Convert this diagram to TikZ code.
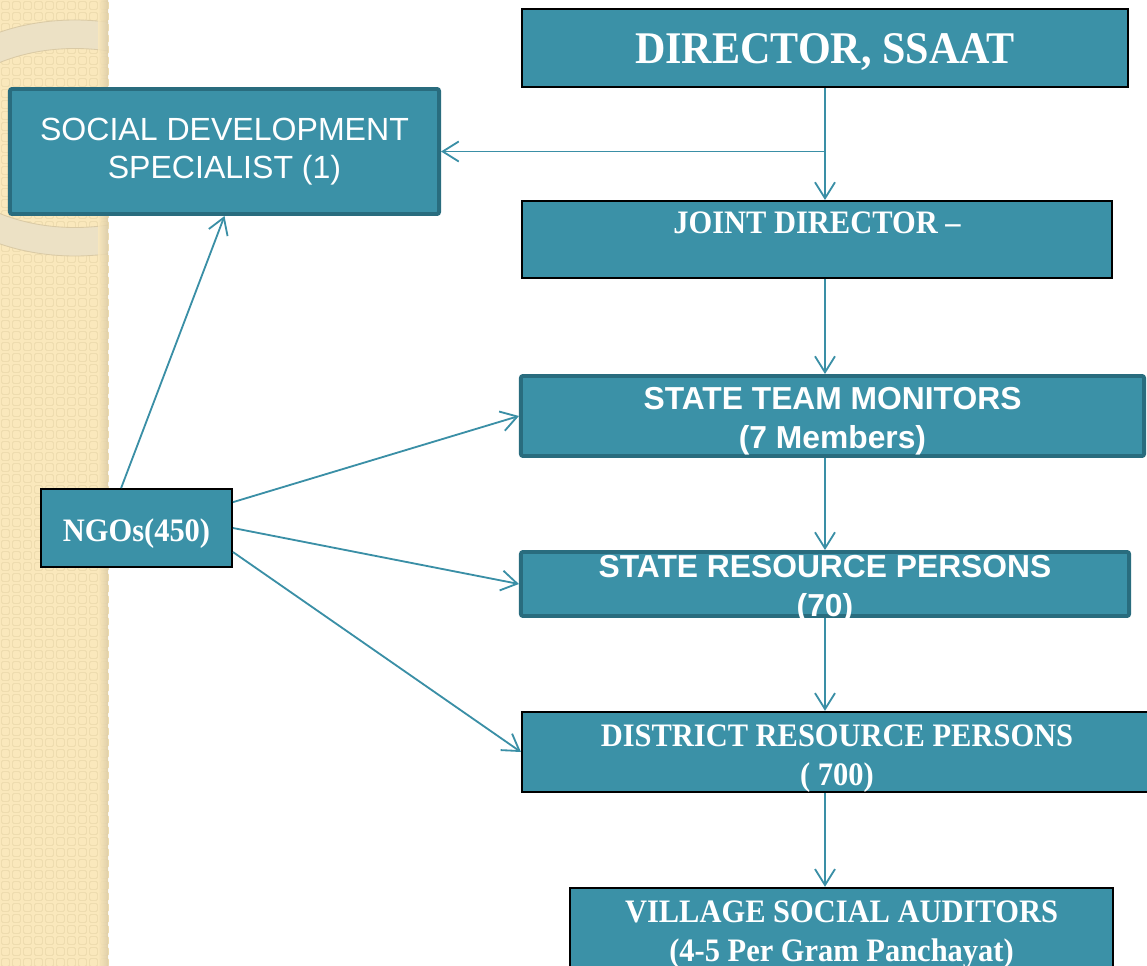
\documentclass[tikz,border=0pt]{standalone}
\usepackage{fontspec}
\setmainfont{Liberation Serif}[FakeStretch=0.93]
\setsansfont{Liberation Sans}
\usepackage{tikz}
\usetikzlibrary{arrows.meta, calc}
\definecolor{boxteal}{RGB}{59,145,167}
\definecolor{rimteal}{RGB}{41,108,126}
\definecolor{lineteal}{RGB}{58,143,166}
\definecolor{parchment}{RGB}{250,232,188}
\definecolor{parchdark}{RGB}{238,220,175}
\definecolor{parchedge}{RGB}{218,202,165}
\definecolor{ringtone}{RGB}{236,225,197}
% pushes the first line of a box down a little
\newcommand{\capstrut}[1][1.05em]{\rule{0pt}{#1}}

\begin{document}
\begin{tikzpicture}[x=0.025cm, y=-0.025cm,
  box/.style={draw=black, line width=1.4pt, fill=boxteal, text=white, inner sep=0pt, align=center,
    font=\fontsize{23.3}{27.7}\selectfont\bfseries},
  rimbox/.style={box, draw=rimteal, line width=2.8pt, rounded corners=1.5pt, font=\sffamily\fontsize{22.6}{27.7}\selectfont\bfseries},
  tile/.style={draw=parchdark, line width=0.7pt, rounded corners=1pt},
  arr/.style={-{Straight Barb[length=4mm, width=5mm]}, lineteal, line width=1.3pt},
]
  \useasboundingbox (0,0) rectangle (1147,966);
  \clip (0,0) rectangle (1147,966);

  % Side strip
  \fill[parchment] (0,0) rectangle (108,966);
  \foreach \i in {0,...,9}
    \foreach \j in {0,...,87}
      \draw[tile] ({\i*11+1.5},{\j*11+1.5}) rectangle +(8,8);
  \begin{scope}
    \clip (0,0) rectangle (108,966);
    \fill[ringtone, even odd rule] (75,138) ellipse[x radius=170, y radius=118] (75,138) ellipse[x radius=140, y radius=89.5];
    \draw[parchedge, line width=0.6pt] (75,138) ellipse[x radius=170, y radius=118] (75,138) ellipse[x radius=140, y radius=89.5];
  \end{scope}
  \shade[left color=parchment, right color=parchedge, opacity=0.8] (98,0) rectangle (108,966);

  % Blocks
  \node[box, minimum width=15.15cm, minimum height=1.95cm, font=\fontsize{32.2}{38}\selectfont\bfseries] (director) at (825,48) {\capstrut[0.85em]DIRECTOR, SSAAT};
  \node[box, minimum width=14.75cm, minimum height=1.925cm] (joint) at (817,239.5) {JOINT DIRECTOR –\\[-4pt]~};
  \node[rimbox, minimum width=10.725cm, minimum height=3.125cm, font=\sffamily\fontsize{22.8}{27}\selectfont] (sds) at (224.5,151.5) {SOCIAL DEVELOPMENT\\SPECIALIST (1)};
  \node[rimbox, minimum width=15.575cm, minimum height=2cm] (stm) at (832.5,416) {\capstrut STATE TEAM MONITORS\\(7 Members)};
  \node[rimbox, minimum width=15.2cm, minimum height=1.6cm, inner ysep=-7pt] (srp) at (825,584) {\capstrut STATE RESOURCE PERSONS\\(70)};
  \node[box, minimum width=15.75cm, minimum height=1.95cm] (drp) at (837,752) {\capstrut DISTRICT RESOURCE PERSONS\\( 700)};
  \node[box, minimum width=13.575cm, minimum height=1.95cm] (vsa) at (841.5,928) {\capstrut VILLAGE SOCIAL AUDITORS\\(4-5 Per Gram Panchayat)};
  \node[box, minimum width=4.775cm, minimum height=1.95cm] (ngo) at (136.5,528) {\capstrut NGOs(450)};

  % Arrows
  \draw[arr] (director.south) -- (director |- joint.north);
  \draw[arr] (director |- sds.east) -- (sds.east);
  \draw[arr] (director |- joint.south) -- (director |- stm.north);
  \draw[arr] (director |- stm.south) -- (director |- srp.north);
  \draw[arr] (director |- srp.south) -- (director |- drp.north);
  \draw[arr] (director |- drp.south) -- (director |- vsa.north);
  \draw[arr] (ngo.111) -- (sds.south);
  \draw[arr] (ngo.15) -- (stm.west);
  \draw[arr] (ngo.east) -- (srp.west);
  \draw[arr] (ngo.-14) -- (drp.west);
\end{tikzpicture}
\end{document}
